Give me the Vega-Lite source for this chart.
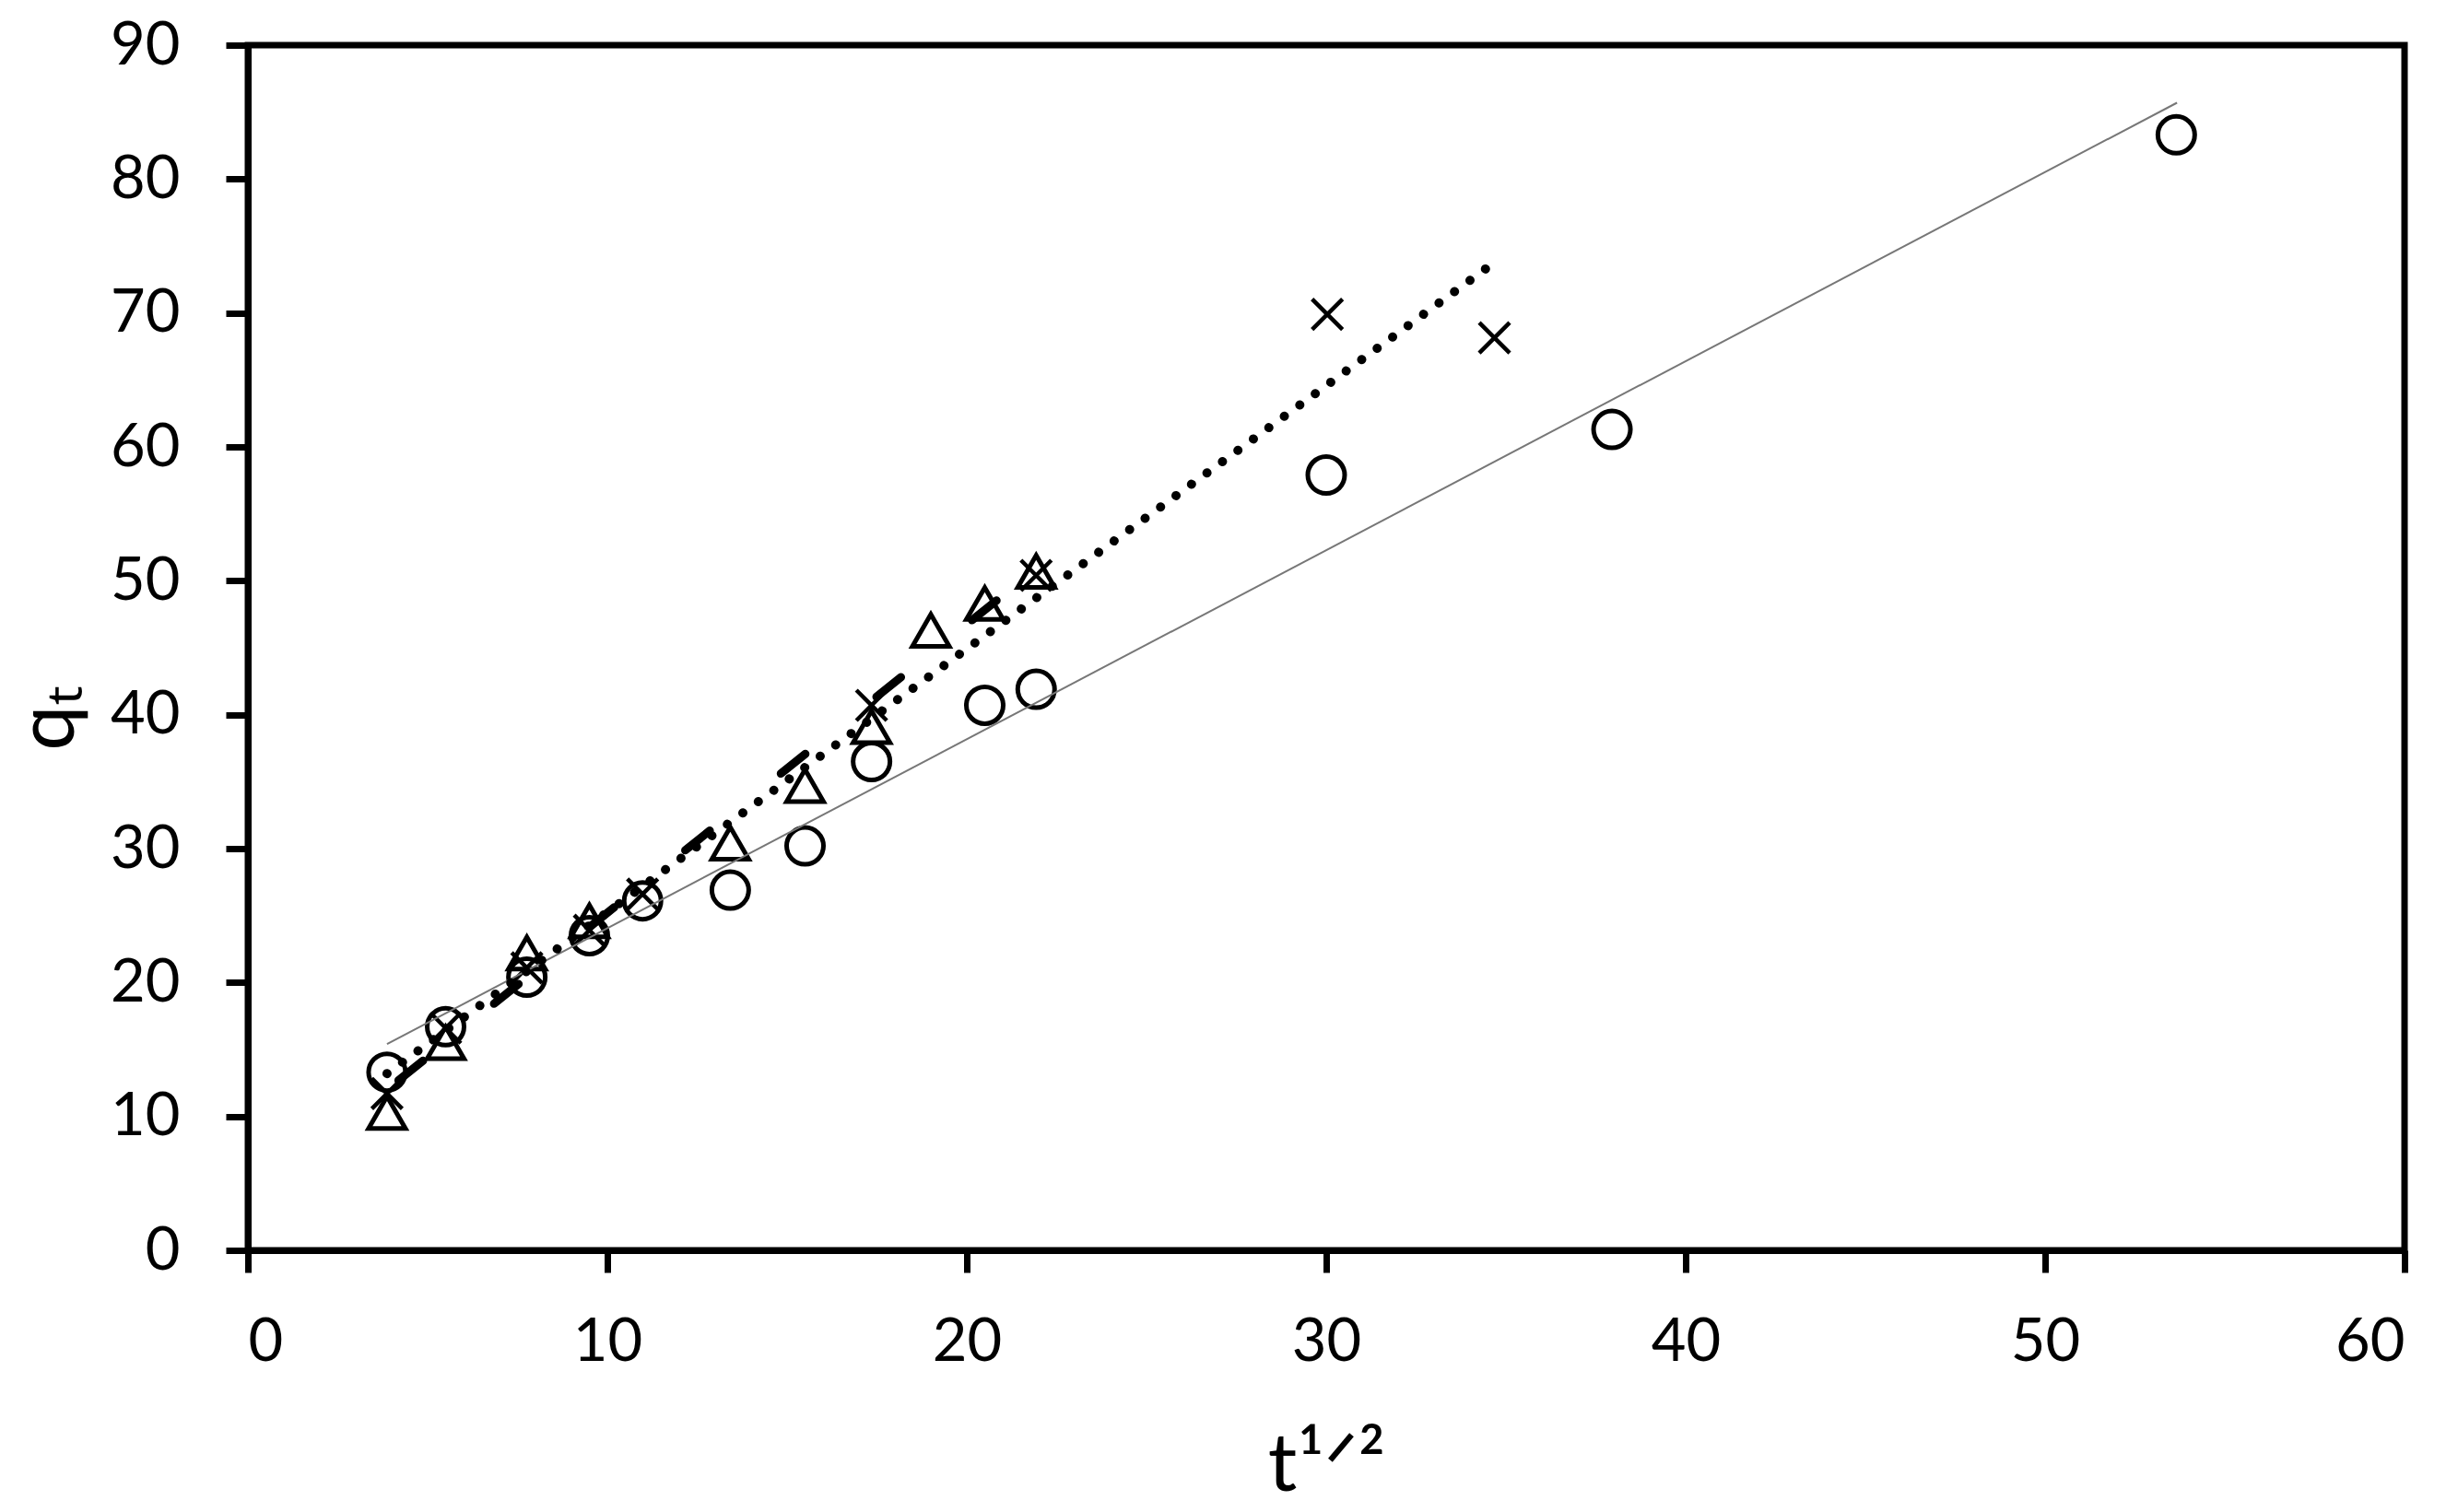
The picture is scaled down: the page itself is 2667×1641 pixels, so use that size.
{
  "$schema": "https://vega.github.io/schema/vega-lite/v6.json",
  "autosize": "none",
  "width": 2340,
  "height": 1308,
  "padding": {"left": 269, "top": 49, "right": 58, "bottom": 284},
  "background": "white",
  "config": {
    "view": {"stroke": "black", "strokeWidth": 7},
    "axis": {
      "grid": false,
      "domainColor": "black",
      "domainWidth": 7,
      "tickColor": "black",
      "tickWidth": 7,
      "tickSize": 24,
      "labelFont": "Lato",
      "labelFontSize": 65,
      "labelColor": "black",
      "titleFont": "Lato",
      "titleFontWeight": "normal",
      "titleColor": "black",
      "titleFontSize": 88
    }
  },
  "datasets": {
    "points": [
      {"series": "circle", "t": 3.87, "q": 13.3},
      {"series": "circle", "t": 5.5, "q": 16.7},
      {"series": "circle", "t": 7.76, "q": 20.4},
      {"series": "circle", "t": 9.5, "q": 23.5},
      {"series": "circle", "t": 10.98, "q": 26.1},
      {"series": "circle", "t": 13.42, "q": 26.9},
      {"series": "circle", "t": 15.5, "q": 30.2},
      {"series": "circle", "t": 17.35, "q": 36.5},
      {"series": "circle", "t": 20.5, "q": 40.7},
      {"series": "circle", "t": 21.93, "q": 41.9},
      {"series": "circle", "t": 30.0, "q": 57.9},
      {"series": "circle", "t": 37.95, "q": 61.3},
      {"series": "circle", "t": 53.65, "q": 83.3},
      {"series": "triangle", "t": 3.87, "q": 10.3},
      {"series": "triangle", "t": 5.5, "q": 15.5},
      {"series": "triangle", "t": 7.76, "q": 22.2},
      {"series": "triangle", "t": 9.5, "q": 24.6},
      {"series": "triangle", "t": 13.42, "q": 30.4},
      {"series": "triangle", "t": 15.5, "q": 34.7},
      {"series": "triangle", "t": 17.35, "q": 39.1},
      {"series": "triangle", "t": 19.0, "q": 46.3},
      {"series": "triangle", "t": 20.5, "q": 48.3},
      {"series": "triangle", "t": 21.93, "q": 50.7},
      {"series": "cross", "t": 3.87, "q": 11.7},
      {"series": "cross", "t": 5.5, "q": 16.6},
      {"series": "cross", "t": 7.76, "q": 21.1},
      {"series": "cross", "t": 9.5, "q": 23.9},
      {"series": "cross", "t": 10.98, "q": 26.6},
      {"series": "cross", "t": 17.35, "q": 40.7},
      {"series": "cross", "t": 21.93, "q": 50.4},
      {"series": "cross", "t": 30.03, "q": 69.9},
      {"series": "cross", "t": 34.68, "q": 68.15}
    ],
    "trends": [
      {"series": "circle", "t": 3.87, "q": 15.4},
      {"series": "circle", "t": 53.67, "q": 85.7},
      {"series": "triangle", "t": 3.87, "q": 12.0},
      {"series": "triangle", "t": 21.93, "q": 50.9},
      {"series": "cross", "t": 3.87, "q": 13.2},
      {"series": "cross", "t": 34.64, "q": 73.7}
    ]
  },
  "encoding": {
    "x": {
      "field": "t",
      "type": "quantitative",
      "scale": {"domain": [0, 60], "nice": false},
      "axis": {
        "values": [0, 10, 20, 30, 40, 50, 60],
        "title": "t¹ᐟ²",
        "labelPadding": 44,
        "titleBaseline": "alphabetic",
        "titleY": 260
      }
    },
    "y": {
      "field": "q",
      "type": "quantitative",
      "scale": {"domain": [0, 90], "nice": false},
      "axis": {
        "values": [0, 10, 20, 30, 40, 50, 60, 70, 80, 90],
        "title": "qₜ",
        "labelPadding": 50,
        "titleAngle": -90,
        "titleAlign": "center",
        "titleBaseline": "alphabetic",
        "titleX": -190,
        "titleY": 730
      }
    }
  },
  "layer": [
    {
      "data": {"name": "points"},
      "transform": [{"filter": "datum.series === 'circle'"}],
      "mark": {"type": "point", "shape": "circle", "filled": false, "size": 1600, "strokeWidth": 5, "color": "black", "opacity": 1}
    },
    {
      "data": {"name": "points"},
      "transform": [{"filter": "datum.series === 'cross'"}],
      "mark": {"type": "point", "shape": "M-1,-1L1,1M-1,1L1,-1", "filled": false, "size": 1089, "strokeWidth": 4.5, "color": "black", "opacity": 1}
    },
    {
      "data": {"name": "points"},
      "transform": [{"filter": "datum.series === 'triangle'"}],
      "mark": {"type": "point", "shape": "triangle-up", "filled": false, "size": 1600, "strokeWidth": 5, "color": "black", "opacity": 1}
    },
    {
      "data": {"name": "trends"},
      "transform": [{"filter": "datum.series === 'circle'"}],
      "mark": {"type": "line", "color": "#777777", "strokeWidth": 2}
    },
    {
      "data": {"name": "trends"},
      "transform": [{"filter": "datum.series === 'cross'"}],
      "mark": {"type": "line", "color": "black", "strokeWidth": 10, "strokeCap": "round", "strokeDash": [0.01, 20.8]}
    },
    {
      "data": {"name": "trends"},
      "transform": [{"filter": "datum.series === 'triangle'"}],
      "mark": {"type": "line", "color": "black", "strokeWidth": 9, "strokeCap": "round", "strokeDash": [34, 99], "strokeDashOffset": 117}
    }
  ]
}
